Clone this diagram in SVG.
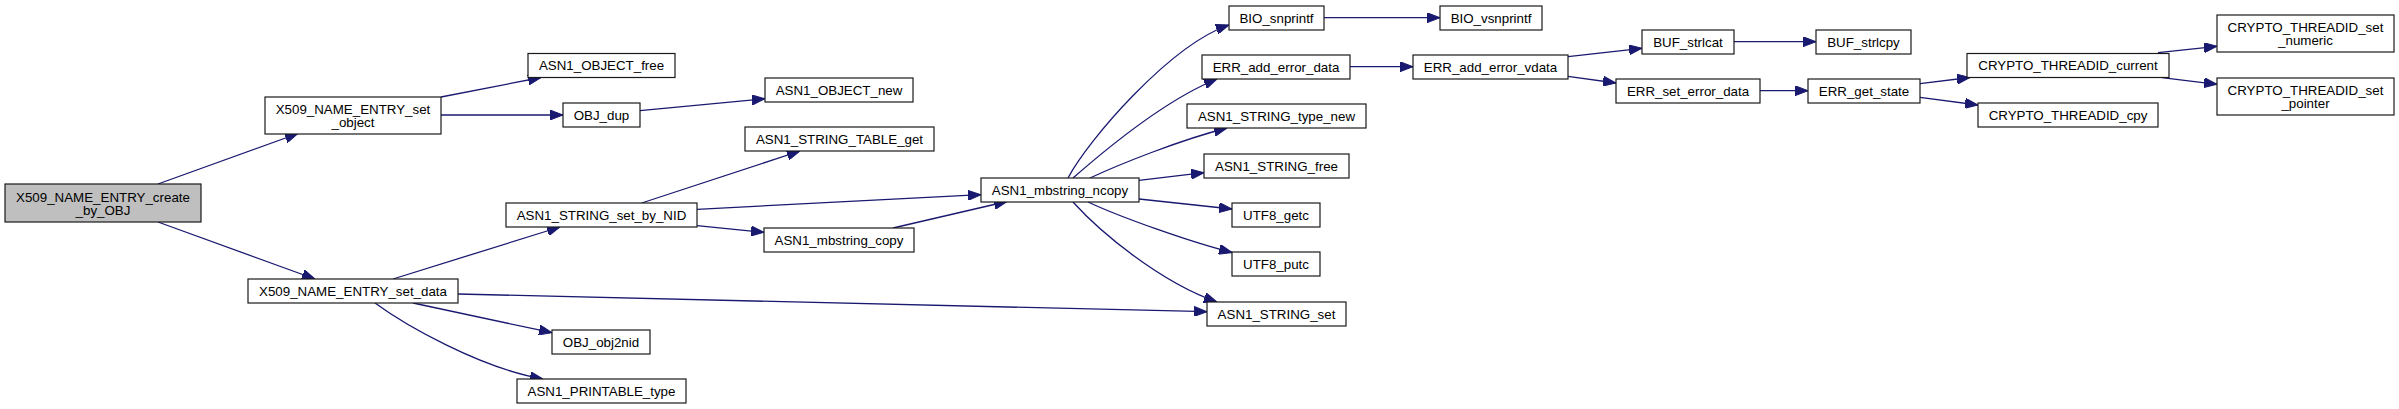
<svg xmlns="http://www.w3.org/2000/svg" width="2399" height="409" viewBox="0 0 2399 409">
<style>
.n rect{fill:#ffffff;stroke:#1a1a1a;stroke-width:1.2}
.n.root rect{fill:#bfbfbf}
.n text{font-family:"Liberation Sans",Arial,Helvetica,sans-serif;font-size:13.33px;fill:#000;text-anchor:middle}
.e path{fill:none;stroke:#191970;stroke-width:1.3;marker-end:url(#ah)}
</style>
<defs>
<marker id="ah" viewBox="0 0 13 10" refX="13" refY="5" markerWidth="13" markerHeight="10" markerUnits="userSpaceOnUse" orient="auto">
<path d="M0,0 L13,5 L0,10 z" fill="#191970" stroke="#191970" stroke-width="1"/>
</marker>
</defs>
<rect width="2399" height="409" fill="#ffffff"/>
<g id="edges" class="e">
<path d="M158,184 L298,133.5"/>
<path d="M158,222 L315,279"/>
<path d="M441,97 L541,77.5"/>
<path d="M441,115 L563,115"/>
<path d="M640,110.7 L765,98.7"/>
<path d="M393,279 L560,227"/>
<path d="M458,294 L1207,311.7"/>
<path d="M413,303 L552,332.7"/>
<path d="M375,303 C405,325 480,368 543,379"/>
<path d="M641.7,203 L800,151"/>
<path d="M697,209.3 L981,194.7"/>
<path d="M697,225.7 L764,232.3"/>
<path d="M893,228 L1007,201.5"/>
<path d="M1068,178 C1088,140 1170,45 1229,25"/>
<path d="M1073,178 C1105,150 1165,100 1217,79"/>
<path d="M1090,178 C1120,164 1180,140 1227,128"/>
<path d="M1139,180.3 L1204,172.7"/>
<path d="M1139,199 L1232,209"/>
<path d="M1088,202 C1120,217 1190,242 1232,252.5"/>
<path d="M1073,202 C1100,232 1160,282 1217,302"/>
<path d="M1324,17.7 L1440,17.7"/>
<path d="M1350,66.7 L1413,66.7"/>
<path d="M1568,56.7 L1642,48.3"/>
<path d="M1568,76.3 L1616,83"/>
<path d="M1734,41.7 L1816,41.7"/>
<path d="M1760,90.7 L1808,90.7"/>
<path d="M1920,83.7 L1970,77.5"/>
<path d="M1920,97.3 L1978,105"/>
<path d="M2158,52.7 L2217,46.3"/>
<path d="M2162,77.7 L2217,84.3"/>
</g>
<g id="node_create" class="n root"><rect x="5" y="184" width="196" height="38"/><text x="103" y="201.5">X509_NAME_ENTRY_create</text><text x="103" y="214.5">_by_OBJ</text></g>
<g id="node_set_object" class="n"><rect x="265" y="97" width="176" height="37"/><text x="353" y="113.5">X509_NAME_ENTRY_set</text><text x="353" y="126.5">_object</text></g>
<g id="node_set_data" class="n"><rect x="248" y="279" width="210" height="24"/><text x="353" y="295.5">X509_NAME_ENTRY_set_data</text></g>
<g id="node_obj_free" class="n"><rect x="528" y="53.5" width="147" height="24"/><text x="601.5" y="70">ASN1_OBJECT_free</text></g>
<g id="node_obj_dup" class="n"><rect x="563" y="103" width="77" height="24"/><text x="601.5" y="119.5">OBJ_dup</text></g>
<g id="node_set_by_nid" class="n"><rect x="506" y="203" width="191" height="24"/><text x="601.5" y="219.5">ASN1_STRING_set_by_NID</text></g>
<g id="node_obj2nid" class="n"><rect x="552" y="330" width="98" height="24"/><text x="601" y="346.5">OBJ_obj2nid</text></g>
<g id="node_printable" class="n"><rect x="517" y="379" width="169" height="24"/><text x="601.5" y="395.5">ASN1_PRINTABLE_type</text></g>
<g id="node_obj_new" class="n"><rect x="765" y="78" width="148" height="24"/><text x="839" y="94.5">ASN1_OBJECT_new</text></g>
<g id="node_table_get" class="n"><rect x="745" y="127" width="189" height="24"/><text x="839.5" y="143.5">ASN1_STRING_TABLE_get</text></g>
<g id="node_mbstring_copy" class="n"><rect x="764" y="228" width="150" height="24"/><text x="839" y="244.5">ASN1_mbstring_copy</text></g>
<g id="node_mbstring_ncopy" class="n"><rect x="981" y="178" width="158" height="24"/><text x="1060" y="194.5">ASN1_mbstring_ncopy</text></g>
<g id="node_bio_snprintf" class="n"><rect x="1229" y="6" width="95" height="24"/><text x="1276.5" y="22.5">BIO_snprintf</text></g>
<g id="node_err_add_error_data" class="n"><rect x="1202" y="55" width="148" height="24"/><text x="1276" y="71.5">ERR_add_error_data</text></g>
<g id="node_type_new" class="n"><rect x="1187" y="104" width="179" height="24"/><text x="1276.5" y="120.5">ASN1_STRING_type_new</text></g>
<g id="node_string_free" class="n"><rect x="1204" y="154" width="145" height="24"/><text x="1276.5" y="170.5">ASN1_STRING_free</text></g>
<g id="node_utf8_getc" class="n"><rect x="1232" y="203" width="88" height="24"/><text x="1276" y="219.5">UTF8_getc</text></g>
<g id="node_utf8_putc" class="n"><rect x="1232" y="252" width="88" height="24"/><text x="1276" y="268.5">UTF8_putc</text></g>
<g id="node_string_set" class="n"><rect x="1207" y="302" width="139" height="24"/><text x="1276.5" y="318.5">ASN1_STRING_set</text></g>
<g id="node_bio_vsnprintf" class="n"><rect x="1440" y="6" width="102" height="24"/><text x="1491" y="22.5">BIO_vsnprintf</text></g>
<g id="node_err_add_error_vdata" class="n"><rect x="1413" y="55" width="155" height="24"/><text x="1490.5" y="71.5">ERR_add_error_vdata</text></g>
<g id="node_buf_strlcat" class="n"><rect x="1642" y="30" width="92" height="24"/><text x="1688" y="46.5">BUF_strlcat</text></g>
<g id="node_err_set_error_data" class="n"><rect x="1616" y="79" width="144" height="24"/><text x="1688" y="95.5">ERR_set_error_data</text></g>
<g id="node_buf_strlcpy" class="n"><rect x="1816" y="30" width="95" height="24"/><text x="1863.5" y="46.5">BUF_strlcpy</text></g>
<g id="node_err_get_state" class="n"><rect x="1808" y="79" width="112" height="24"/><text x="1864" y="95.5">ERR_get_state</text></g>
<g id="node_threadid_current" class="n"><rect x="1967" y="53.5" width="202" height="24"/><text x="2068" y="70">CRYPTO_THREADID_current</text></g>
<g id="node_threadid_cpy" class="n"><rect x="1978" y="103" width="180" height="24"/><text x="2068" y="119.5">CRYPTO_THREADID_cpy</text></g>
<g id="node_threadid_set_numeric" class="n"><rect x="2217" y="15" width="177" height="37"/><text x="2305.5" y="31.5">CRYPTO_THREADID_set</text><text x="2305.5" y="44.5">_numeric</text></g>
<g id="node_threadid_set_pointer" class="n"><rect x="2217" y="78" width="177" height="37"/><text x="2305.5" y="94.5">CRYPTO_THREADID_set</text><text x="2305.5" y="107.5">_pointer</text></g>
</svg>
